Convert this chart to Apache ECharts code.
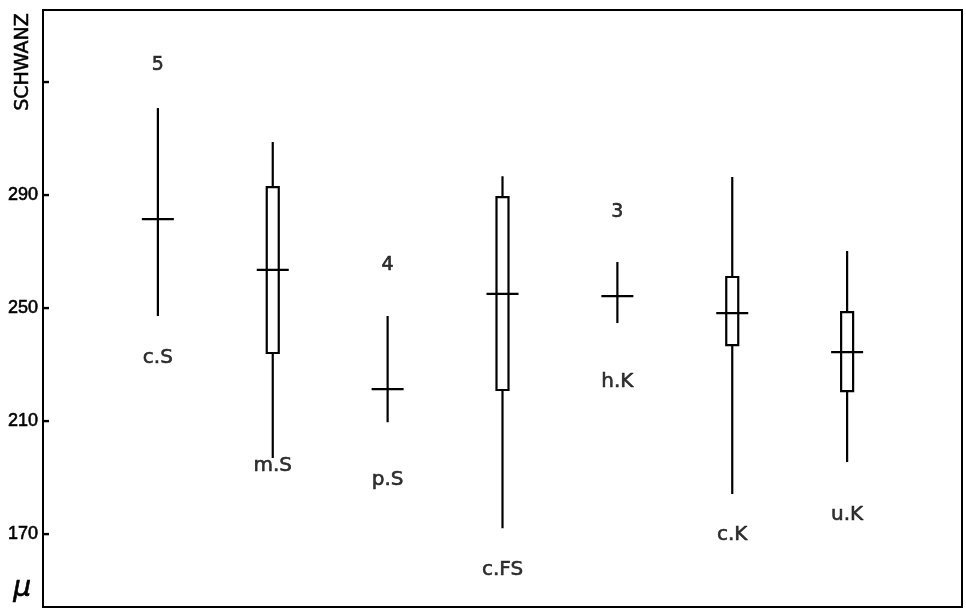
<!DOCTYPE html>
<html><head><meta charset="utf-8">
<script src="https://cdn.jsdelivr.net/npm/echarts@6/dist/echarts.min.js"></script>
<style>html,body{margin:0;padding:0;background:#fff}#c{width:966px;height:611px}</style>
</head><body><div id="c"></div><script>
const categories = ['c.S','m.S','p.S','c.FS','h.K','c.K','u.K'];
const whiskerHigh = [320.8, 308.8, 247.2, 296.7, 266.3, 296.4, 270.2];
const boxHigh     = [null, 292.8, null, 289.3, null, 261.0, 248.6];
const means       = [281.5, 263.5, 221.3, 255.0, 254.2, 248.2, 234.4];
const boxLow      = [null, 234.1, null, 221.0, null, 236.9, 220.6];
const whiskerLow  = [247.2, 196.9, 209.6, 172.1, 244.7, 184.2, 195.5];
const sampleSizes = ['5', '', '4', '', '3', '', ''];
const sampleSizeAt = [336, null, 265.2, null, 284, null, null];
const labelAt = [232.3, 194.1, 189.1, 157.3, 223.8, 169.6, 176.7];
const yTicks = [170, 210, 250, 290, 330];
const yTickLabels = [170, 210, 250, 290];

const FONT = "'DejaVu Sans', sans-serif";
const TICKFONT = "'Liberation Sans', sans-serif";
const INK = '#000';
const Y_MIN = 144.2, Y_MAX = 355.5;
const HEAVY = {textBorderColor: INK, textBorderWidth: 0.6};

const chart = echarts.init(document.getElementById('c'), null, {renderer: 'canvas'});
const option = {
  animation: false,
  backgroundColor: '#fff',
  grid: {left: 43, right: 4, top: 10, bottom: 4, show: true, borderColor: INK, borderWidth: 2, backgroundColor: 'transparent'},
  xAxis: {type: 'value', min: 0, max: 8, show: false},
  yAxis: {
    type: 'value', min: Y_MIN, max: Y_MAX, position: 'left',
    axisLine: {show: false},
    splitLine: {show: false},
    axisTick: {show: false},
    axisLabel: Object.assign({customValues: yTickLabels, color: INK, fontSize: 18, fontFamily: TICKFONT, margin: 5}, HEAVY)
  },
  graphic: [
    {type: 'text', left: 13, top: 13, rotation: Math.PI / 2, style: Object.assign({text: 'SCHWANZ', fontSize: 19, fontFamily: FONT, fill: INK, stroke: INK, lineWidth: 0.5})},
    {type: 'text', left: 13, top: 574, style: {text: 'μ', fontSize: 28, fontStyle: 'italic', fontFamily: FONT, fill: INK, stroke: INK, lineWidth: 0.6}}
  ],
  series: [
    {
      // y-axis ticks, pointing inward from the left frame
      type: 'custom', silent: true,
      data: yTicks.map(v => [0, v]),
      renderItem: function (params, api) {
        const p = api.coord([api.value(0), api.value(1)]);
        return {type: 'line', shape: {x1: p[0], y1: p[1], x2: p[0] + 6, y2: p[1]}, style: {stroke: INK, lineWidth: 2.4}};
      },
      z: 3
    },
    {
      type: 'custom',
      data: categories.map((c, i) => [i + 1, whiskerHigh[i], whiskerLow[i], means[i]]),
      renderItem: function (params, api) {
        const i = params.dataIndex;
        const x = api.value(0);
        const top = api.coord([x, api.value(1)]);
        const bot = api.coord([x, api.value(2)]);
        const mid = api.coord([x, api.value(3)]);
        const children = [
          {type: 'line', shape: {x1: top[0], y1: top[1], x2: bot[0], y2: bot[1]}, style: {stroke: INK, lineWidth: 2.2}}
        ];
        if (boxHigh[i] != null) {
          const bt = api.coord([x, boxHigh[i]]);
          const bb = api.coord([x, boxLow[i]]);
          children.push({type: 'rect', shape: {x: bt[0] - 6, y: bt[1], width: 12, height: bb[1] - bt[1]},
            style: {fill: '#fff', stroke: INK, lineWidth: 2.2}});
        }
        children.push({type: 'line', shape: {x1: mid[0] - 16, y1: mid[1], x2: mid[0] + 16, y2: mid[1]}, style: {stroke: INK, lineWidth: 2.2}});
        return {type: 'group', children: children};
      },
      z: 2
    },
    {
      type: 'scatter', symbolSize: 0,
      data: categories.map((c, i) => ({value: [i + 1, labelAt[i]], name: c})),
      label: Object.assign({show: true, position: 'inside', formatter: p => p.name, color: INK, fontSize: 20, fontFamily: FONT}, HEAVY),
      silent: true
    },
    {
      type: 'scatter', symbolSize: 0,
      data: categories.map((c, i) => ({value: [i + 1, sampleSizeAt[i] == null ? NaN : sampleSizeAt[i]], name: sampleSizes[i]})).filter(d => !isNaN(d.value[1])),
      label: Object.assign({show: true, position: 'inside', formatter: p => p.name, color: INK, fontSize: 19, fontFamily: FONT}, HEAVY),
      silent: true
    }
  ]
};
chart.setOption(option);
</script></body></html>
